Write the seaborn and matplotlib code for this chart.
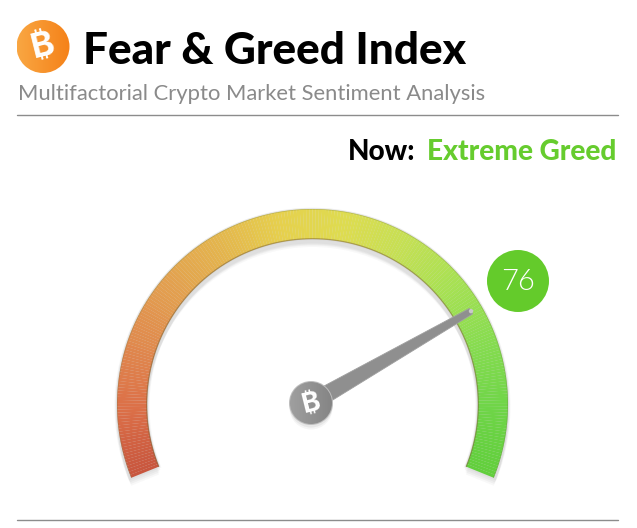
"""Fear & Greed Index gauge."""

import matplotlib.pyplot as plt
import numpy as np
import seaborn as sns
from matplotlib import font_manager as fm
from matplotlib.patches import Circle, Polygon, Wedge

TITLE = "Fear & Greed Index"
SUBTITLE = "Multifactorial Crypto Market Sentiment Analysis"
NOW_LABEL = "Now:"
NOW_STATE = "Extreme Greed"
BITCOIN = "\u20bf"
CURRENT_VALUE = 76
GAUGE_COLORS = [
    "#c8563e", "#dc7048", "#e08a4e", "#e3a04f", "#e4b54d", "#e6d04d",
    "#dedc50", "#c4e054", "#a6e153", "#86dc50", "#6fd548", "#62cf3c",
]

W, H = 637, 528
CX, CY = 312.5, 123.5  # gauge centre, y measured from the bottom
R_OUT, R_IN = 195.5, 165.5
START, SWEEP = 202.0, 224.0
NEEDLE_SWEEP = 226.5
GREEN = "#66cc2e"


def value_angle(value, sweep=SWEEP):
    return START - sweep * value / 100


def lato(name):
    """Pick one exact Lato cut, the weight lookup alone lands on Hairline."""
    for path in fm.findSystemFonts():
        if path.endswith(f"Lato-{name}.ttf"):
            return fm.FontProperties(fname=path)
    return fm.FontProperties(family="Lato")


def coin(ax, x, y, r, left, right):
    """Round badge with a soft left to right gradient and a bitcoin sign."""
    clip = Circle((x, y), r, transform=ax.transData, facecolor="none", edgecolor="none")
    ax.add_patch(clip)
    colors = sns.blend_palette([left, right], 32)
    img = ax.imshow(
        np.array(colors)[None, :, :],
        extent=(x - r, x + r, y - r, y + r),
        aspect="auto",
        zorder=5,
    )
    img.set_clip_path(clip)
    ax.text(
        x, y - 0.5, BITCOIN, color="white", fontsize=r * 0.95, fontweight="bold",
        family=["Inter", "DejaVu Sans"], rotation=14, ha="center", va="center", zorder=6,
    )


sns.set_theme(style="white")
plt.rcParams["font.family"] = ["Lato", "DejaVu Sans"]

fig = plt.figure(figsize=(W / 100, H / 100), dpi=100, facecolor="white")

under = fig.add_axes([0, 0, 1, 1], zorder=1)
under.set_xlim(0, W)
under.set_ylim(0, H)
under.axis("off")

# soft drop shadow below the band
for dy, grow, alpha in [(2, 2.5, 0.05), (4, 1.5, 0.05), (6, 0.5, 0.05), (8, 0, 0.04)]:
    under.add_patch(
        Wedge(
            (CX, CY - dy), R_OUT + grow, -22, 202, width=R_OUT - R_IN + 2 * grow,
            facecolor="#555555", edgecolor="none", alpha=alpha,
        )
    )
under.add_patch(
    Wedge((CX, CY), R_OUT + 1.2, -22, 202, width=R_OUT - R_IN + 2.4,
          facecolor="#d8d8d8", edgecolor="none", alpha=0.5)
)

# band drawn on a polar axes whose radial unit is one pixel
rmax = 200
polar = fig.add_axes(
    [(CX - rmax) / W, (CY - rmax) / H, 2 * rmax / W, 2 * rmax / H],
    projection="polar", zorder=2,
)
polar.patch.set_alpha(0)
polar.set_ylim(0, rmax)
polar.axis("off")

N_STEPS = 240
band = sns.blend_palette(GAUGE_COLORS, N_STEPS)
edges = np.linspace(0, 100, N_STEPS + 1)
thetas = np.radians(value_angle(edges))
polar.bar(
    (thetas[:-1] + thetas[1:]) / 2,
    R_OUT - R_IN,
    width=np.abs(np.diff(thetas)) * 1.03,
    bottom=R_IN,
    color=band,
    linewidth=0,
)
polar.plot(thetas, np.full_like(thetas, R_OUT - 0.3), color="#6f7a40", lw=0.5, alpha=0.35)
polar.plot(thetas, np.full_like(thetas, R_IN + 0.3), color="#7a6030", lw=0.9, alpha=0.5)

over = fig.add_axes([0, 0, 1, 1], zorder=3)
over.patch.set_alpha(0)
over.axis("off")

# header
coin(over, 43, H - 46.5, 26.5, "#f9a642", "#f58219")
over.text(83, H - 64.5, TITLE, fontproperties=lato("Black"), fontsize=31.8, color="black", va="baseline")
over.text(17.5, H - 100, SUBTITLE, fontsize=15.82, color="#8a8a8a", va="baseline")
over.plot([17, 618], [H - 115, H - 115], color="#8c8c8c", lw=1)
over.plot([17, 618], [H - 520, H - 520], color="#8c8c8c", lw=1)

over.text(348, H - 160, NOW_LABEL, fontproperties=lato("Black"), fontsize=20.1, color="black", va="baseline")
over.text(427, H - 160, NOW_STATE, fontproperties=lato("Black"), fontsize=20.2, color=GREEN, va="baseline")

# value badge
over.add_patch(Circle((518, H - 281), 31, facecolor="#64cb2b", edgecolor="none"))
over.text(518, H - 282, str(CURRENT_VALUE), color="white", fontproperties=lato("Light"), fontsize=21,
          ha="center", va="center")

# needle, aimed with its own value scale around the hub
ang = np.radians(value_angle(CURRENT_VALUE, NEEDLE_SWEEP))
hub_x, hub_y = 311, H - 403
u = np.array([np.cos(ang), np.sin(ang)])
n = np.array([-u[1], u[0]])
hub = np.array([hub_x, hub_y])
base, tip = hub + 12 * u, hub + 184.5 * u
needle = [base + 8.5 * n, tip + 3.2 * n, tip - 3.2 * n, base - 8.5 * n]
over.add_patch(Polygon(needle, closed=True, facecolor="#8f8f8f", edgecolor="#a0a0a0", lw=0.6, zorder=3))
over.add_patch(Circle(tip, 2.2, facecolor="#c9c9c9", edgecolor="none", zorder=3))
for dy, alpha in [(3, 0.08), (5, 0.05)]:
    over.add_patch(Circle((hub_x, hub_y - dy), 21.5, facecolor="#444444", edgecolor="none", alpha=alpha, zorder=2))
over.add_patch(Circle((hub_x, hub_y), 22, facecolor="#bdbdbd", edgecolor="none", zorder=4))
coin(over, hub_x, hub_y, 21, "#9f9f9f", "#858585")

over.set_xlim(0, W)
over.set_ylim(0, H)

fig.savefig("out.png", dpi=100)
